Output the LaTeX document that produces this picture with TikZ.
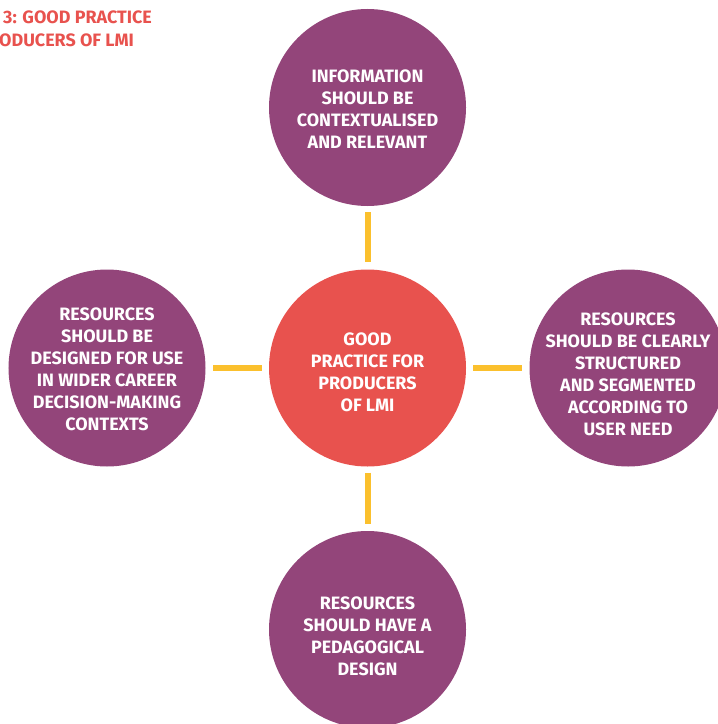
\documentclass[tikz,border=0pt]{standalone}
\usepackage{fontspec}
\setmainfont{Fira Sans}
\definecolor{plum}{RGB}{147,69,122}
\definecolor{coral}{RGB}{232,82,78}
\definecolor{sun}{RGB}{251,192,45}
\begin{document}
\begin{tikzpicture}[x=1bp,y=-1bp,
  bubble/.style={circle,minimum size=197bp,inner sep=0pt,fill=plum},
  hub/.style={bubble,fill=coral},
  btext/.style={text=white,align=center,inner sep=0pt,
    font=\bfseries\fontsize{18}{22}\selectfont},
  link/.style={draw=sun,line width=6bp},
  ttl/.style={anchor=west,text=coral,inner sep=0pt,font=\bfseries\fontsize{18}{22}\selectfont}]
\useasboundingbox (0,0) rectangle (718,724);
\begin{scope}
\clip (0,0) rectangle (718,724);
\node[hub,label={[btext,yshift=-4bp]center:{GOOD\\PRACTICE FOR\\PRODUCERS\\OF LMI}}] (c) at (367.5,368) {};
\node[bubble,label={[btext,yshift=-2bp]center:{INFORMATION\\SHOULD BE\\CONTEXTUALISED\\AND RELEVANT}}] (t) at (367.5,107.5) {};
\node[bubble,label={[btext,yshift=-1.5bp]center:{RESOURCES\\SHOULD BE\\DESIGNED FOR USE\\IN WIDER CAREER\\DECISION-MAKING\\CONTEXTS}}] (l) at (107,368) {};
\node[bubble,label={[btext,yshift=-6.5bp]center:{RESOURCES\\SHOULD BE CLEARLY\\STRUCTURED\\AND SEGMENTED\\ACCORDING TO\\USER NEED}}] (r) at (628,368) {};
\node[bubble,label={[btext,yshift=-7bp]center:{RESOURCES\\SHOULD HAVE A\\PEDAGOGICAL\\DESIGN}}] (b) at (367.5,629.5) {};
\draw[link] ([yshift=-6bp]t.south) -- ([yshift=7bp]c.north);
\draw[link] ([yshift=-6bp]c.south) -- ([yshift=7bp]b.north);
\draw[link] ([xshift=-7bp]c.west) -- ([xshift=7bp]l.east);
\draw[link] ([xshift=7bp]c.east) -- ([xshift=-7bp]r.west);
\node[ttl] (t1) at (3,17) {3: GOOD PRACTICE};
\node[ttl] (t2) at (-1,40) {ODUCERS OF LMI};
\end{scope}
\end{tikzpicture}
\end{document}
